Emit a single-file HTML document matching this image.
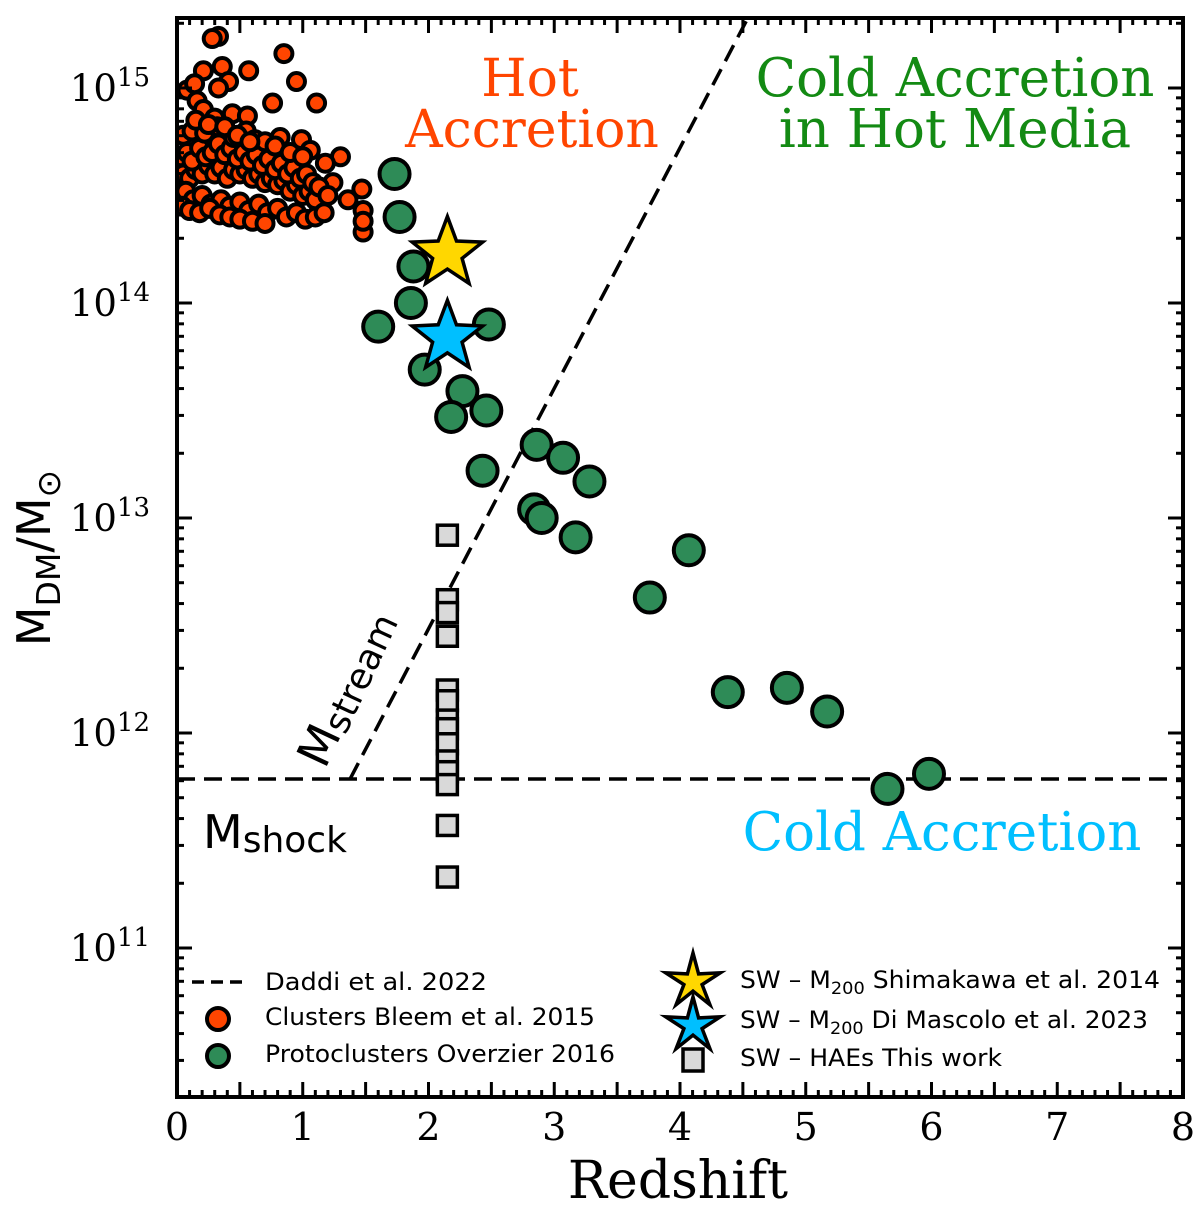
<!DOCTYPE html>
<html><head><meta charset="utf-8"><style>
body{margin:0;background:#fff}
svg{display:block}
</style></head><body>
<svg id="chart" width="1200" height="1209" viewBox="0 0 1200 1209" xmlns="http://www.w3.org/2000/svg"></svg>
<script>
const xTicks=[0,1,2,3,4,5,6,7,8];
const yTicks=[11,12,13,14,15];
const clusterZ=[0.33,0.28,0.85,0.21,0.36,0.57,0.95,0.41,0.33,0.08,0.14,0.76,1.11,0.16,0.21,0.44,0.56,0.30,0.82,0.99,1.30,1.47,1.48,1.48,1.48,1.36,1.24,1.18,1.06,
0.02,0.05,0.1,0.15,0.2,0.25,0.3,0.35,0.4,0.45,0.5,0.55,0.6,0.65,0.7,0.75,0.8,0.85,0.9,0.95,1.0,1.05,1.1,
0.03,0.08,0.12,0.18,0.23,0.28,0.33,0.38,0.43,0.48,0.53,0.58,0.63,0.68,0.73,0.78,0.83,0.88,0.93,0.98,1.03,1.08,1.13,1.2,
0.02,0.07,0.13,0.2,0.27,0.35,0.42,0.5,0.57,0.65,0.72,0.8,0.87,0.95,1.02,1.1,1.17,
0.05,0.12,0.22,0.32,0.45,0.55,0.62,0.7,0.78,0.9,1.0,
0.04,0.1,0.18,0.26,0.34,0.42,0.5,0.6,0.7,0.15,0.25,0.38,0.48,0.58];
const clusterLogM=[15.24,15.23,15.16,15.08,15.10,15.08,15.03,15.03,15.00,14.99,15.02,14.93,14.93,14.94,14.90,14.88,14.87,14.86,14.77,14.76,14.68,14.53,14.43,14.33,14.38,14.48,14.56,14.65,14.71,
14.55,14.6,14.58,14.62,14.6,14.64,14.6,14.63,14.58,14.62,14.6,14.62,14.58,14.6,14.56,14.58,14.55,14.57,14.52,14.55,14.5,14.52,14.48,
14.68,14.7,14.66,14.72,14.68,14.7,14.74,14.69,14.72,14.67,14.7,14.66,14.69,14.64,14.67,14.62,14.65,14.6,14.63,14.58,14.6,14.56,14.54,14.5,
14.5,14.52,14.48,14.5,14.46,14.48,14.45,14.47,14.43,14.46,14.42,14.44,14.4,14.42,14.39,14.4,14.42,
14.78,14.8,14.79,14.82,14.77,14.8,14.76,14.75,14.73,14.7,14.68,
14.45,14.43,14.42,14.44,14.41,14.4,14.39,14.38,14.37,14.85,14.83,14.82,14.78,14.75];
const protoZ=[1.73,1.77,1.88,1.86,1.60,2.48,1.97,2.27,2.46,2.18,2.43,2.86,3.07,3.28,2.84,2.90,3.17,4.07,3.76,4.38,4.85,5.17,5.65,5.98];
const protoLogM=[14.60,14.40,14.17,14.0,13.89,13.90,13.69,13.59,13.50,13.47,13.22,13.34,13.28,13.17,13.04,13.0,12.91,12.85,12.63,12.19,12.21,12.10,11.74,11.81];
const haeZ=[2.15,2.15,2.15,2.15,2.15,2.15,2.15,2.15,2.15,2.15,2.15,2.15,2.15,2.15];
const haeLogM=[12.92,12.62,12.56,12.45,12.2,12.15,12.06,12.02,11.95,11.87,11.82,11.76,11.57,11.33];
const starZ=[2.15,2.15];
const starLogM=[14.23,13.84];
const mShockLog=11.786;
const streamZ=[1.376,4.54];
const streamLogM=[11.786,15.326];

const X0=177,X1=1183,Y0=18,Y1=1097;
const sx=z=>X0+z*(X1-X0)/8;
const sy=l=>88+(15-l)*215;
const svg=document.getElementById('chart');
const NS='http://www.w3.org/2000/svg';
function mk(t,a,p){const e=document.createElementNS(NS,t);for(const k in a)e.setAttribute(k,a[k]);(p||svg).appendChild(e);return e;}

const clip=mk('clipPath',{id:'pc'});mk('rect',{x:X0,y:Y0,width:X1-X0,height:Y1-Y0},clip);
const g=mk('g',{'clip-path':'url(#pc)'});



let l=mk('line',{x1:X0,x2:X1,y1:sy(mShockLog),y2:sy(mShockLog),stroke:'#000','stroke-width':3.5,'stroke-dasharray':'18,9'},g);


l=mk('line',{x1:sx(streamZ[0]),y1:sy(streamLogM[0]),x2:sx(streamZ[1]),y2:sy(streamLogM[1]),stroke:'#000','stroke-width':3.5,'stroke-dasharray':'18,9'},g);



clusterZ.forEach((z,i)=>{const c=mk('circle',{cx:sx(z),cy:sy(clusterLogM[i]),r:8.5,fill:'#ff4500',stroke:'#000','stroke-width':4},g);

});
protoZ.forEach((z,i)=>{const c=mk('circle',{cx:sx(z),cy:sy(protoLogM[i]),r:15,fill:'#2e8b57',stroke:'#000','stroke-width':4},g);

});
haeZ.forEach((z,i)=>{const c=mk('rect',{x:sx(z)-10,y:sy(haeLogM[i])-10,width:20,height:20,fill:'#d9d9d9',stroke:'#000','stroke-width':3.5},g);

});
function starPts(cx,cy,R){const r=R*0.42;let p=[];for(let k=0;k<10;k++){const a=-Math.PI/2+k*Math.PI/5;const rr=k%2?r:R;p.push((cx+rr*Math.cos(a)).toFixed(1)+','+(cy+rr*Math.sin(a)).toFixed(1));}return p.join(' ');}
const starCols=['#ffd700','#00bfff'];
starZ.forEach((z,i)=>{const s=mk('polygon',{points:starPts(sx(z),sy(starLogM[i]),37),fill:starCols[i],stroke:'#000','stroke-width':3.5,'stroke-linejoin':'miter'},g);

});

const fr=mk('rect',{x:X0,y:Y0,width:X1-X0,height:Y1-Y0,fill:'none',stroke:'#000','stroke-width':4});


for(let k=0;k<=80;k++){const z=k/10,x=sx(z),len=(k%5===0)?15:7;
mk('line',{x1:x,x2:x,y1:Y1,y2:Y1-len,stroke:'#000','stroke-width':3});
mk('line',{x1:x,x2:x,y1:Y0,y2:Y0+len,stroke:'#000','stroke-width':3});}
xTicks.forEach(v=>{const t=mk('text',{x:sx(v),y:1140,'text-anchor':'middle','font-family':'DejaVu Serif, Liberation Serif, serif','font-size':38});t.textContent=v;

});
for(let d=10;d<=15;d++){for(let k=1;k<=9;k++){const lv=d+Math.log10(k);const y=sy(lv);if(y<Y0||y>Y1)continue;const len=k===1?15:7;
mk('line',{x1:X0,x2:X0+len,y1:y,y2:y,stroke:'#000','stroke-width':3});
mk('line',{x1:X1,x2:X1-len,y1:y,y2:y,stroke:'#000','stroke-width':3});}}
yTicks.forEach(v=>{const t=mk('text',{x:150,y:sy(v)+13,'text-anchor':'end','font-family':'DejaVu Serif, Liberation Serif, serif','font-size':37});
t.innerHTML='10<tspan dy="-15" font-size="26">'+v+'</tspan>';

});
</script>
<svg style="position:absolute;left:0;top:0" width="1200" height="1209" xmlns="http://www.w3.org/2000/svg" font-family="DejaVu Serif, Liberation Serif, serif">
<text x="678" y="1198" text-anchor="middle" font-size="52">Redshift</text>
<text transform="translate(50,558) rotate(-90)" text-anchor="middle" font-family="DejaVu Sans, Liberation Sans, sans-serif" font-size="46">M<tspan dy="10" font-size="33">DM</tspan><tspan dy="-10">/M</tspan><tspan dy="10" font-size="33">⊙</tspan></text>
<text x="530" y="96" text-anchor="middle" font-size="52" fill="#ff4500">Hot</text>
<text x="532" y="147" text-anchor="middle" font-size="52" fill="#ff4500">Accretion</text>
<text x="955" y="96" text-anchor="middle" font-size="53" fill="#138a13">Cold Accretion</text>
<text x="955" y="147" text-anchor="middle" font-size="53" fill="#138a13">in Hot Media</text>
<text x="942" y="850" text-anchor="middle" font-size="53" fill="#00bfff">Cold Accretion</text>
<text x="203" y="848" font-family="DejaVu Sans, Liberation Sans, sans-serif" font-size="46">M<tspan dy="4" font-size="36">shock</tspan></text>
<text transform="translate(325,770) rotate(-65)" font-family="DejaVu Sans, Liberation Sans, sans-serif" font-size="46">M<tspan dy="4" font-size="36">stream</tspan></text>
<g font-family="DejaVu Sans, Liberation Sans, sans-serif" font-size="24">
<line x1="192" x2="245" y1="982" y2="982" stroke="#000" stroke-width="3.5" stroke-dasharray="12,7"/>
<text x="265" y="990" textLength="222" lengthAdjust="spacingAndGlyphs">Daddi et al. 2022</text>
<circle cx="218" cy="1019" r="11" fill="#ff4500" stroke="#000" stroke-width="4"/>
<text x="265" y="1025" textLength="330" lengthAdjust="spacingAndGlyphs">Clusters Bleem et al. 2015</text>
<circle cx="218" cy="1056" r="11" fill="#2e8b57" stroke="#000" stroke-width="4"/>
<text x="265" y="1062" textLength="350" lengthAdjust="spacingAndGlyphs">Protoclusters Overzier 2016</text>
<polygon points="693.0,953.0 698.6,973.9 720.3,972.8 702.1,984.6 709.9,1004.7 693.0,991.1 676.1,1004.7 683.9,984.6 665.7,972.8 687.4,973.9" fill="#ffd700" stroke="#000" stroke-width="3.5"/>
<text x="740" y="988" textLength="420" lengthAdjust="spacingAndGlyphs">SW – M<tspan dy="6" font-size="17">200</tspan><tspan dy="-6"> Shimakawa et al. 2014</tspan></text>
<polygon points="693.0,997.0 698.6,1017.9 720.3,1016.8 702.1,1028.6 709.9,1048.7 693.0,1035.1 676.1,1048.7 683.9,1028.6 665.7,1016.8 687.4,1017.9" fill="#00bfff" stroke="#000" stroke-width="3.5"/>
<text x="740" y="1028" textLength="408" lengthAdjust="spacingAndGlyphs">SW – M<tspan dy="6" font-size="17">200</tspan><tspan dy="-6"> Di Mascolo et al. 2023</tspan></text>
<rect x="683" y="1049" width="20" height="22" fill="#d9d9d9" stroke="#000" stroke-width="3.5"/>
<text x="740" y="1066" textLength="262" lengthAdjust="spacingAndGlyphs">SW – HAEs This work</text>
</g>
</svg>
</body></html>
